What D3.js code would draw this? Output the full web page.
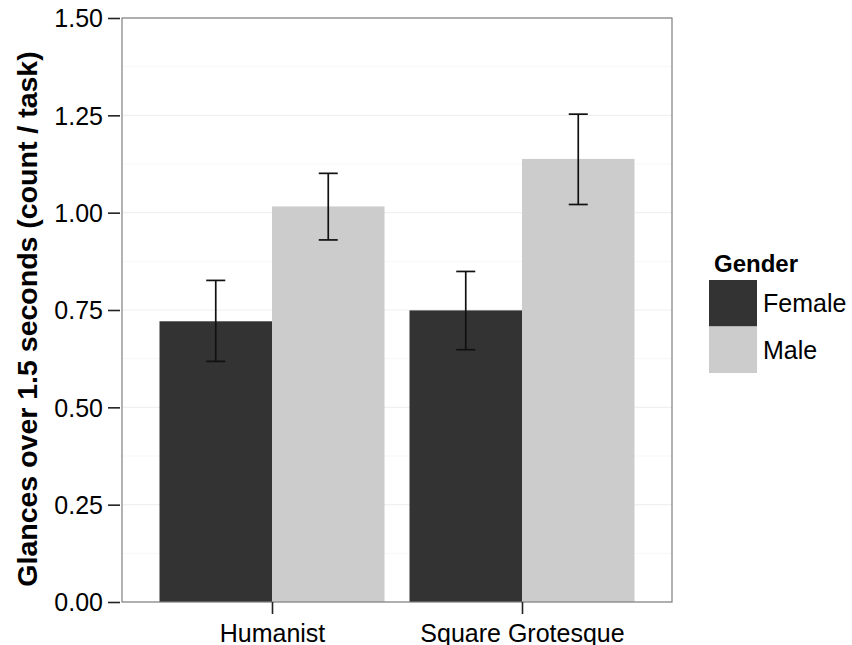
<!DOCTYPE html>
<html>
<head>
<meta charset="utf-8">
<script src="https://cdn.jsdelivr.net/npm/d3@7"></script>
<style>
  body { margin: 0; background: #fff; }
  text { font-family: Arial, "Liberation Sans", sans-serif; }
</style>
</head>
<body>
<div id="chart"></div>
<script>
// Data
var fonts = ["Humanist", "Square Grotesque"];
var genders = ["Female", "Male"];
var meanFemale = [0.721, 0.749];
var meanMale = [1.016, 1.138];
var lowFemale = [0.618, 0.648];
var highFemale = [0.826, 0.849];
var lowMale = [0.930, 1.021];
var highMale = [1.101, 1.253];
var yTicks = [0, 0.25, 0.5, 0.75, 1.0, 1.25, 1.5];
var yMinor = [0.125, 0.375, 0.625, 0.875, 1.125, 1.375];
var fillColors = ["#333333", "#cccccc"];

var svgWidth = 852, svgHeight = 645;
var margin = {top: 18, right: 180, bottom: 43, left: 122};
var width = svgWidth - margin.left - margin.right;
var height = svgHeight - margin.top - margin.bottom;

var svg = d3.select("#chart").append("svg")
  .attr("width", svgWidth)
  .attr("height", svgHeight);

var chartGroup = svg.append("g")
  .attr("transform", `translate(${margin.left}, ${margin.top})`);

// build rows
var rows = [];
fonts.forEach((f, i) => {
  rows.push({font: f, gender: "Female", mean: meanFemale[i], lo: lowFemale[i], hi: highFemale[i]});
  rows.push({font: f, gender: "Male", mean: meanMale[i], lo: lowMale[i], hi: highMale[i]});
});

// scales (ggplot-like discrete expansion of 0.6)
var xLinear = d3.scaleLinear().domain([0.4, fonts.length + 0.6]).range([0, width]);
var xPos = f => xLinear(fonts.indexOf(f) + 1);
var barW = xLinear(0.9) - xLinear(0);
var yScale = d3.scaleLinear().domain([0, 1.5]).range([height, 0]);
var color = d3.scaleOrdinal().domain(genders).range(fillColors);

// grid
chartGroup.selectAll("line.minor").data(yMinor).enter().append("line")
  .attr("x1", 0).attr("x2", width)
  .attr("y1", d => yScale(d)).attr("y2", d => yScale(d))
  .attr("stroke", "#f7f7f7").attr("stroke-width", 1);
chartGroup.selectAll("line.major").data(yTicks).enter().append("line")
  .attr("x1", 0).attr("x2", width)
  .attr("y1", d => yScale(d)).attr("y2", d => yScale(d))
  .attr("stroke", "#f0f0f0").attr("stroke-width", 1.2);

// bars
chartGroup.selectAll("rect.bar").data(rows).enter().append("rect")
  .attr("class", "bar")
  .attr("x", d => xPos(d.font) - barW / 2 + (d.gender === "Male" ? barW / 2 : 0))
  .attr("width", barW / 2)
  .attr("y", d => yScale(d.mean))
  .attr("height", d => height - yScale(d.mean))
  .attr("fill", d => color(d.gender));

// error bars
var capW = 9.5;
var eb = chartGroup.selectAll("g.eb").data(rows).enter().append("g")
  .attr("transform", d => `translate(${xPos(d.font) + (d.gender === "Male" ? barW / 4 : -barW / 4)},0)`)
  .attr("stroke", "#111").attr("stroke-width", 1.7);
eb.append("line").attr("x1", 0).attr("x2", 0)
  .attr("y1", d => yScale(d.lo)).attr("y2", d => yScale(d.hi));
eb.append("line").attr("x1", -capW).attr("x2", capW)
  .attr("y1", d => yScale(d.lo)).attr("y2", d => yScale(d.lo));
eb.append("line").attr("x1", -capW).attr("x2", capW)
  .attr("y1", d => yScale(d.hi)).attr("y2", d => yScale(d.hi));

// panel border
chartGroup.append("rect")
  .attr("width", width).attr("height", height)
  .attr("fill", "none").attr("stroke", "#7f7f7f").attr("stroke-width", 1.2);

// axes
var yAxis = d3.axisLeft(yScale).tickValues(yTicks).tickFormat(d3.format(".2f"))
  .tickSize(14).tickPadding(5);
var gy = chartGroup.append("g").call(yAxis);
gy.select(".domain").remove();
gy.selectAll(".tick line").attr("x2", -14).attr("x1", -2)
  .attr("stroke", "#222").attr("stroke-width", 1.6);
gy.selectAll("text").attr("font-size", 25).attr("fill", "#000").attr("dy", "0.35em");

var xAxis = d3.axisBottom(d3.scalePoint().domain(fonts).range([xLinear(1), xLinear(2)]))
  .tickSize(12).tickPadding(10);
var gx = chartGroup.append("g").attr("transform", `translate(0, ${height})`).call(xAxis);
gx.select(".domain").remove();
gx.selectAll(".tick line").attr("stroke", "#222").attr("stroke-width", 1.6);
gx.selectAll("text").attr("font-size", 25).attr("fill", "#000");

// y axis title
chartGroup.append("text")
  .attr("transform", "rotate(-90)")
  .attr("x", -(319 - margin.top))
  .attr("y", -margin.left + 37)
  .attr("text-anchor", "middle")
  .attr("font-size", 28.5)
  .attr("font-weight", "bold")
  .text("Glances over 1.5 seconds (count / task)");

// legend
var legend = svg.append("g").attr("transform", "translate(709, 280)");
legend.append("text").attr("x", 5).attr("y", -8)
  .attr("font-size", 24).attr("font-weight", "bold").text("Gender");
var keys = legend.selectAll("g.key").data(genders).enter().append("g")
  .attr("transform", (d, i) => `translate(0, ${i * 46.5})`);
keys.append("rect").attr("width", 48).attr("height", 46.5)
  .attr("fill", d => color(d));
keys.append("text").attr("x", 54).attr("y", 23).attr("dy", "0.36em")
  .attr("font-size", 25).text(d => d);
</script>
</body>
</html>
